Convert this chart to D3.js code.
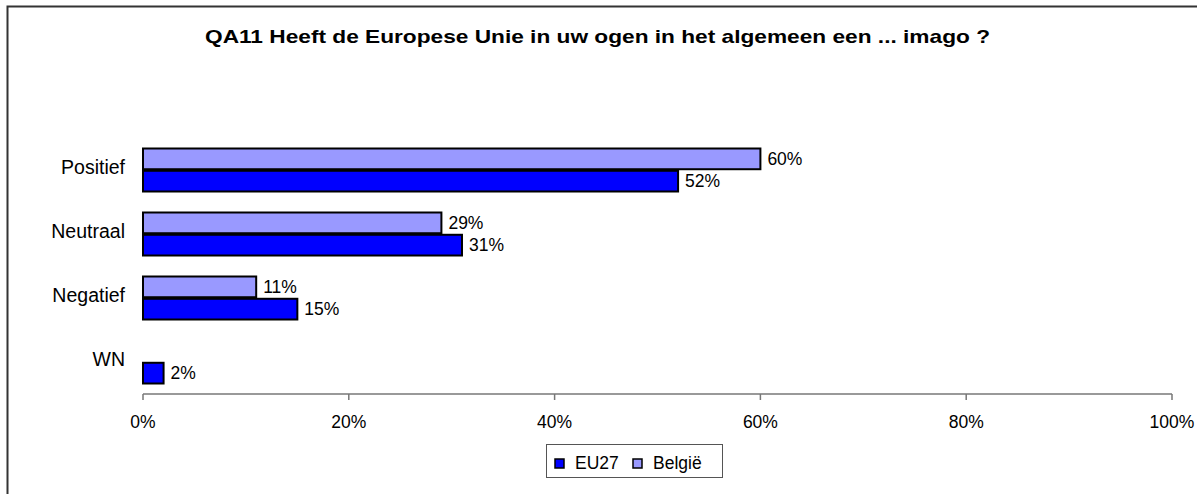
<!DOCTYPE html>
<html><head><meta charset="utf-8">
<script src="https://cdn.jsdelivr.net/npm/d3@7"></script>
<style>body{margin:0;background:#fff}svg{display:block}text{font-family:Arial,"Liberation Sans",sans-serif}</style>
</head><body>
<svg id="c" width="1197" height="494"></svg>
<script>
const title = "QA11  Heeft de Europese Unie in uw ogen in het algemeen een ... imago ?";
const categories = ["Positief", "Neutraal", "Negatief", "WN"];
const seriesNames = ["België", "EU27"];
const belgie = [60, 29, 11, 0];
const eu27 = [52, 31, 15, 2];
const tickValues = [0, 20, 40, 60, 80, 100];
const colors = {"EU27": "#0000ff", "België": "#9999ff"};

const svg = d3.select("#c");
// outer frame
svg.append("rect").attr("x", 7.5).attr("y", 6.5).attr("width", 1250).attr("height", 600)
  .attr("fill", "none").attr("stroke", "#333").attr("stroke-width", 2);

svg.append("text").attr("x", 205).attr("y", 43)
  .attr("font-size", 19).attr("font-weight", "bold")
  .attr("textLength", 785).attr("lengthAdjust", "spacingAndGlyphs").text(title);

const x = d3.scaleLinear().domain([0, 100]).range([143, 1172]);
const y = d3.scaleBand().domain(categories).range([138, 394]);
const sub = d3.scaleBand().domain(seriesNames).range([0, 43]).paddingInner(0.07);
const barOffset = (y.bandwidth() - 43) / 2;

// x axis
const ax = svg.append("g").attr("transform", "translate(0,394)");
ax.append("line").attr("x1", x(0)).attr("x2", x(100)).attr("stroke", "#777").attr("stroke-width", 1.5);
ax.selectAll("line.t").data(tickValues).join("line").attr("class", "t")
  .attr("x1", d => x(d)).attr("x2", d => x(d)).attr("y1", 0).attr("y2", 6)
  .attr("stroke", "#777").attr("stroke-width", 1.5);
ax.selectAll("text").data(tickValues).join("text")
  .attr("x", d => x(d)).attr("y", 34).attr("text-anchor", "middle").attr("font-size", 17.5)
  .text(d => d + "%");

// category labels
svg.selectAll("text.cat").data(categories).join("text").attr("class", "cat")
  .attr("x", 125).attr("y", d => y(d) + y.bandwidth() / 2 + 4).attr("text-anchor", "end")
  .attr("font-size", 19.5).text(d => d);

const data = [];
categories.forEach((c, i) => {
  data.push({c, s: "België", v: belgie[i]});
  data.push({c, s: "EU27", v: eu27[i]});
});
const shown = data.filter(d => d.v > 0);

svg.selectAll("rect.bar").data(shown).join("rect").attr("class", "bar")
  .attr("x", x(0)).attr("y", d => y(d.c) + barOffset + sub(d.s))
  .attr("width", d => x(d.v) - x(0)).attr("height", sub.bandwidth())
  .attr("fill", d => colors[d.s]).attr("stroke", "#000").attr("stroke-width", 2);

svg.selectAll("text.val").data(shown).join("text").attr("class", "val")
  .attr("x", d => x(d.v) + 7).attr("y", d => y(d.c) + barOffset + sub(d.s) + sub.bandwidth() / 2 + 6)
  .attr("font-size", 17.5).text(d => d.v + "%");

// legend
const lg = svg.append("g");
lg.append("rect").attr("x", 546.5).attr("y", 444.5).attr("width", 176).attr("height", 33)
  .attr("fill", "#fff").attr("stroke", "#555").attr("stroke-width", 1);
const legendItems = [{s: "EU27", x: 555}, {s: "België", x: 633}];
legendItems.forEach(it => {
  lg.append("rect").attr("x", it.x).attr("y", 459).attr("width", 9).attr("height", 9)
    .attr("fill", colors[it.s]).attr("stroke", "#000").attr("stroke-width", 1.5);
  lg.append("text").attr("x", it.x + 20).attr("y", 468.5).attr("font-size", 17.5).text(it.s);
});
</script>
</body></html>
